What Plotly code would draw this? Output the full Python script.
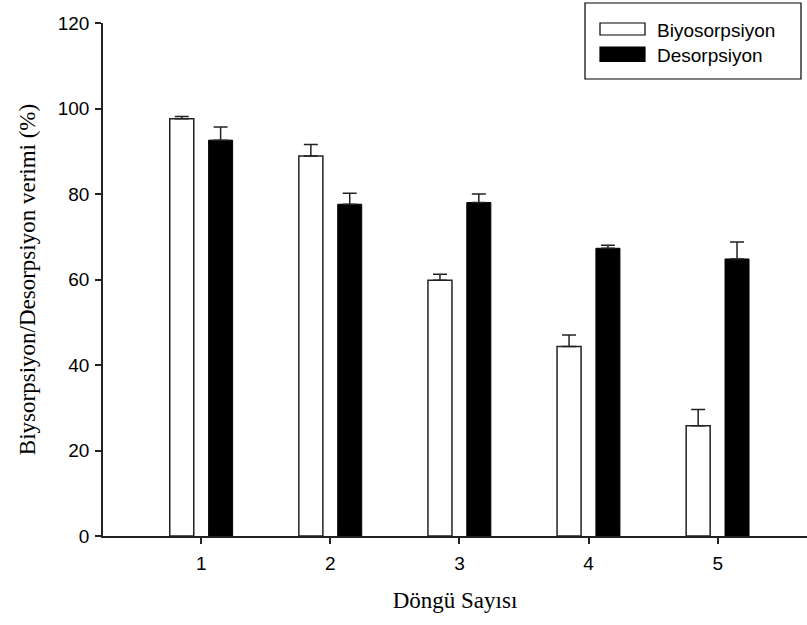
import plotly.graph_objects as go

cycles = [1, 2, 3, 4, 5]
biyo = [97.6, 88.9, 59.8, 44.3, 25.8]
biyo_err = [0.5, 2.7, 1.4, 2.7, 3.8]
deso = [92.6, 77.6, 78.0, 67.3, 64.8]
deso_err = [3.1, 2.6, 2.0, 0.7, 4.0]
zeros = [0, 0, 0, 0, 0]

bar_w = 0.186
fig = go.Figure()
fig.add_trace(go.Bar(
    x=cycles, y=biyo, name="Biyosorpsiyon", width=bar_w, offset=-0.244,
    marker=dict(color="white", line=dict(color="#222", width=1.5)),
    error_y=dict(type="data", array=biyo_err, arrayminus=zeros, symmetric=False,
                 color="#222", thickness=1.5, width=7),
    showlegend=False))
fig.add_trace(go.Bar(
    x=cycles, y=deso, name="Desorpsiyon", width=bar_w, offset=0.057,
    marker=dict(color="black", line=dict(color="black", width=1)),
    error_y=dict(type="data", array=deso_err, arrayminus=zeros, symmetric=False,
                 color="#222", thickness=1.5, width=7),
    showlegend=False))

PL, PR, PT, PB = 103, 807, 23, 536
fig.update_layout(
    width=807, height=625,
    margin=dict(l=PL, r=807 - PR, t=PT, b=625 - PB),
    plot_bgcolor="white", paper_bgcolor="white",
    barmode="overlay",
    font=dict(family="Liberation Sans, Arial", size=19, color="black"),
    xaxis=dict(range=[0.239, 5.692], tickvals=cycles, ticktext=[str(c) for c in cycles],
               showline=True, linecolor="#222", linewidth=1.5, ticks="outside", ticklen=6,
               tickcolor="#222", tickwidth=1.5, showgrid=False, zeroline=False,
               ticklabelstandoff=3,
               title=dict(text="Döngü Sayısı", font=dict(family="Liberation Serif, Times New Roman", size=23),
                          standoff=19)),
    yaxis=dict(range=[0, 120], tickvals=[0, 20, 40, 60, 80, 100, 120],
               showline=True, linecolor="#222", linewidth=1.5, ticks="outside", ticklen=6,
               tickcolor="#222", tickwidth=1.5, showgrid=False, zeroline=False,
               ticklabelstandoff=2,
               title=dict(text="Biysorpsiyon/Desorpsiyon verimi (%)",
                          font=dict(family="Liberation Serif, Times New Roman", size=23),
                          standoff=16)),
)

# legend box and entries (paper coords)
def px(x): return (x - PL) / (PR - PL)
def py(y): return (PB - y) / (PB - PT)
fig.add_shape(type="rect", xref="paper", yref="paper", x0=px(585), x1=px(801), y0=py(79), y1=py(3),
              line=dict(color="black", width=1.2), fillcolor="white", layer="above")
fig.add_shape(type="rect", xref="paper", yref="paper", x0=px(600), x1=px(645), y0=py(35), y1=py(23),
              line=dict(color="black", width=1.2), fillcolor="white", layer="above")
fig.add_shape(type="rect", xref="paper", yref="paper", x0=px(600), x1=px(645), y0=py(61.5), y1=py(47),
              line=dict(color="black", width=1.2), fillcolor="black", layer="above")
for name, yc in [("Biyosorpsiyon", 30), ("Desorpsiyon", 55)]:
    fig.add_annotation(xref="paper", yref="paper", x=px(655), y=py(yc), text=name, showarrow=False,
                       xanchor="left", yanchor="middle", font=dict(size=19, color="black"))

fig.write_html("out.html")
